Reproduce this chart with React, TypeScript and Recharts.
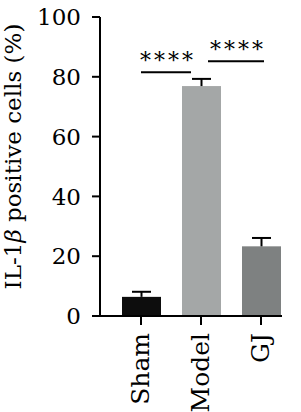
import React from "react";
import { BarChart, Bar, XAxis, YAxis, Cell, ReferenceLine } from "recharts";

const groups = ["Sham", "Model", "GJ"];
const means = [6.4, 76.9, 23.3];
const sems = [1.7, 2.4, 2.8];
const barColors = ["#0d0d0d", "#a4a7a7", "#7e8181"];
const yTicks = [0, 20, 40, 60, 80, 100];

// significance brackets: [from, to], height, label
const sigFrom = ["Sham", "Model"];
const sigTo = ["Model", "GJ"];
const sigLevel = [81.5, 85.2];
const sigText = ["****", "****"];
// small nudges so the lines stop short of the bar centres, like the original
const sigTrim = [
  [0, -10],
  [7, 3],
];

const data = groups.map((name, i) => ({ name, value: means[i], err: sems[i] }));

const FONT = "'DejaVu Serif', 'Liberation Serif', serif";

const BarWithError = (props: any) => {
  const { x, y, width, height, fill, payload } = props;
  const perUnit = payload.value ? height / payload.value : 0;
  const cx = x + width / 2;
  const top = y - payload.err * perUnit;
  return (
    <g>
      <rect x={x} y={y} width={width} height={height} fill={fill} />
      <line x1={cx} y1={y} x2={cx} y2={top} stroke="#000" strokeWidth={2} />
      <line x1={cx - 9.5} y1={top} x2={cx + 9.5} y2={top} stroke="#000" strokeWidth={2} />
    </g>
  );
};

const XTick = (props: any) => {
  const { x, y, payload } = props;
  const px = x + 8;
  return (
    <text
      x={px}
      y={y}
      transform={`rotate(-90 ${px} ${y})`}
      textAnchor="end"
      fill="#000"
      fontSize={25}
      fontFamily={FONT}
    >
      {payload.value}
    </text>
  );
};

const YLabel = ({ viewBox }: any) => {
  const cx = viewBox.x + 21;
  const cy = viewBox.y + viewBox.height / 2 - 10;
  return (
    <text
      x={cx}
      y={cy}
      transform={`rotate(-90 ${cx} ${cy})`}
      textAnchor="middle"
      fill="#000"
      fontSize={23}
      fontFamily={FONT}
    >
      IL-1<tspan fontStyle="italic">β</tspan> positive cells (%)
    </text>
  );
};

const axisLineShape = (p: any) => (
  <line x1={p.x1 - 8} y1={p.y1} x2={p.x2 - 9} y2={p.y2} stroke="#000" strokeWidth={2} />
);

const sigShape = (i: number) => (p: any) => {
  const x1 = p.x1 + sigTrim[i][0];
  const x2 = p.x2 + sigTrim[i][1];
  return (
    <g>
      <line x1={x1} y1={p.y1} x2={x2} y2={p.y2} stroke="#000" strokeWidth={2} />
      <text
        x={(x1 + x2) / 2 + 2}
        y={p.y1 - 4}
        textAnchor="middle"
        fill="#000"
        fontSize={22}
        letterSpacing={3}
        fontFamily={FONT}
      >
        {sigText[i]}
      </text>
    </g>
  );
};

export default function App() {
  return (
    <div style={{ position: "absolute", left: 0, top: 0 }}>
      <BarChart
        width={301}
        height={412}
        data={data}
        margin={{ top: 17, right: 10, left: 0, bottom: 0 }}
        barSize={39}
      >
        <XAxis
          dataKey="name"
          height={96}
          padding={{ left: 11, right: 0 }}
          axisLine={false}
          tickSize={9}
          tickMargin={8}
          tickLine={{ stroke: "#000", strokeWidth: 2 }}
          tick={<XTick />}
          interval={0}
        />
        <YAxis
          width={100}
          domain={[0, 100]}
          ticks={yTicks}
          interval={0}
          tickSize={8}
          tickMargin={11}
          axisLine={{ stroke: "#000", strokeWidth: 2 }}
          tickLine={{ stroke: "#000", strokeWidth: 2 }}
          tick={{ fill: "#000", fontSize: 23, fontFamily: FONT }}
          label={{ content: (p: any) => <YLabel viewBox={p.viewBox} /> }}
        />
        <Bar dataKey="value" shape={<BarWithError />} isAnimationActive={false}>
          {data.map((d, i) => (
            <Cell key={d.name} fill={barColors[i]} />
          ))}
        </Bar>
        <ReferenceLine y={0} shape={axisLineShape} />
        {sigLevel.map((lvl, i) => (
          <ReferenceLine
            key={i}
            segment={[
              { x: sigFrom[i], y: lvl },
              { x: sigTo[i], y: lvl },
            ]}
            shape={sigShape(i)}
          />
        ))}
      </BarChart>
    </div>
  );
}
